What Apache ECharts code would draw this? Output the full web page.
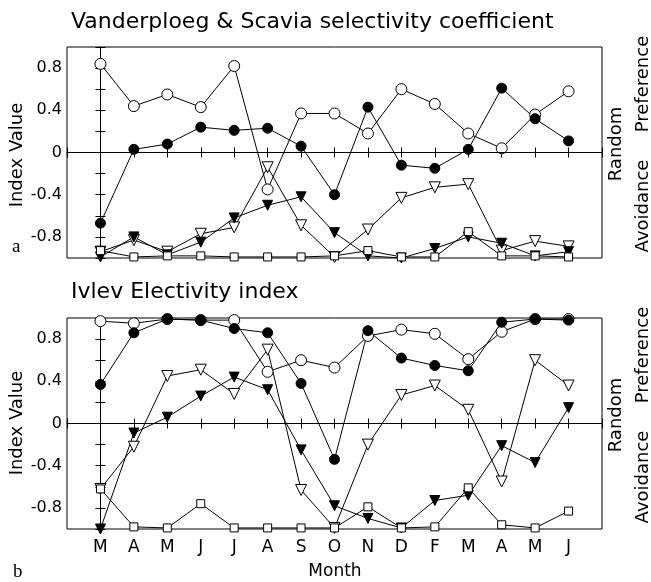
<!DOCTYPE html>
<html>
<head>
<meta charset="utf-8">
<script src="https://cdn.jsdelivr.net/npm/echarts@6/dist/echarts.min.js"></script>
<style>
  html, body { margin: 0; padding: 0; background: #fff; }
  #main { width: 651px; height: 582px; }
</style>
</head>
<body>
<div id="main"></div>
<script>
var months = ['M', 'A', 'M', 'J', 'J', 'A', 'S', 'O', 'N', 'D', 'F', 'M', 'A', 'M', 'J'];

// (a) Vanderploeg & Scavia selectivity coefficient
var vsOpenCircle   = [0.84, 0.44, 0.55, 0.43, 0.82, -0.35, 0.37, 0.37, 0.18, 0.60, 0.46, 0.18, 0.04, 0.36, 0.58];
var vsFilledCircle = [-0.67, 0.03, 0.08, 0.24, 0.21, 0.23, 0.06, -0.40, 0.43, -0.12, -0.15, 0.03, 0.61, 0.32, 0.11];
var vsOpenTri      = [-0.94, -0.83, -0.94, -0.77, -0.71, -0.14, -0.69, -0.99, -0.73, -0.43, -0.33, -0.30, -0.93, -0.84, -0.89];
var vsFilledTri    = [-0.99, -0.80, -0.97, -0.85, -0.62, -0.50, -0.42, -0.76, -0.98, -1.00, -0.91, -0.80, -0.86, -0.98, -0.94];
var vsSquare       = [-0.93, -0.99, -0.98, -0.98, -0.99, -0.99, -0.99, -0.98, -0.93, -0.99, -0.99, -0.75, -0.98, -0.98, -0.99];

// (b) Ivlev electivity index
var ivOpenCircle   = [0.97, 0.95, 0.99, 0.98, 0.98, 0.49, 0.60, 0.53, 0.83, 0.89, 0.85, 0.61, 0.87, 0.99, 0.99];
var ivFilledCircle = [0.37, 0.86, 0.99, 0.98, 0.90, 0.86, 0.38, -0.34, 0.88, 0.62, 0.55, 0.50, 0.96, 0.99, 0.98];
var ivOpenTri      = [-0.62, -0.22, 0.45, 0.51, 0.28, 0.70, -0.63, -0.99, -0.20, 0.27, 0.36, 0.13, -0.55, 0.60, 0.36];
var ivFilledTri    = [-1.00, -0.09, 0.06, 0.26, 0.44, 0.32, -0.25, -0.78, -0.90, -0.99, -0.73, -0.68, -0.21, -0.37, 0.15];
var ivSquare       = [-0.62, -0.98, -0.99, -0.76, -0.99, -0.99, -0.99, -0.99, -0.79, -0.99, -0.98, -0.61, -0.96, -0.99, -0.83];

var FONT = 'DejaVu Sans';
var myChart = echarts.init(document.getElementById('main'), null, { renderer: 'canvas' });

function pts(arr) {
    return arr.map(function (v, i) { return [i, v]; });
}

function xAx(gi, pos, labels) {
    return {
        type: 'value', gridIndex: gi, position: pos,
        min: -1, max: 15, interval: 1,
        axisLine: { show: true, lineStyle: { color: '#000', width: 1 } },
        axisTick: { show: true, inside: true, length: 5, lineStyle: { color: '#000' } },
        axisLabel: {
            show: labels, margin: 10, color: '#000', fontFamily: FONT, fontSize: 17,
            formatter: function (v) { return (v >= 0 && v < months.length) ? months[v] : ''; }
        },
        splitLine: { show: false }
    };
}

function yAx(gi, pos, labels) {
    return {
        type: 'value', gridIndex: gi, position: pos,
        min: -1, max: 1, interval: 0.2,
        axisLine: { show: true, lineStyle: { color: '#000', width: 1 } },
        axisTick: { show: true, inside: true, length: 5, lineStyle: { color: '#000' } },
        axisLabel: {
            show: labels, margin: 5, color: '#000', fontFamily: FONT, fontSize: 16,
            formatter: function (v) {
                var k = Math.round(v * 10);
                if (Math.abs(k) >= 10 || k % 4 !== 0) return '';
                return k === 0 ? '0' : (k / 10).toFixed(1);
            }
        },
        splitLine: { show: false }
    };
}

function ser(idx, arr, symbol, fill, size, zeroLine) {
    var s = {
        type: 'line', xAxisIndex: idx * 2, yAxisIndex: idx * 2,
        data: pts(arr),
        symbol: symbol, symbolSize: size,
        symbolRotate: symbol === 'triangle' ? 180 : 0,
        showAllSymbol: true,
        lineStyle: { color: '#000', width: 1 },
        itemStyle: { color: fill, borderColor: '#000', borderWidth: 1 },
        emphasis: { disabled: true },
        z: 3
    };
    if (zeroLine) {
        s.markLine = {
            silent: true, symbol: 'none', label: { show: false },
            lineStyle: { color: '#000', width: 1, type: 'solid' },
            data: [{ yAxis: 0 }]
        };
    }
    return s;
}

function txt(x, y, text, size, rot, family) {
    return {
        type: 'text', x: x, y: y, rotation: rot || 0,
        style: {
            text: text, fill: '#000', fontFamily: family || FONT, fontSize: size,
            align: rot ? 'center' : 'left', verticalAlign: 'middle'
        }
    };
}

var option = {
    animation: false,
    backgroundColor: '#fff',
    grid: [
        { left: 67, right: 49, top: 47, height: 211, show: true, borderColor: '#000', borderWidth: 1 },
        { left: 67, right: 49, top: 318, height: 211, show: true, borderColor: '#000', borderWidth: 1 }
    ],
    xAxis: [xAx(0, 'bottom', false), xAx(0, 'top', false), xAx(1, 'bottom', true), xAx(1, 'top', false)],
    yAxis: [yAx(0, 'left', true), yAx(0, 'right', false), yAx(1, 'left', true), yAx(1, 'right', false)],
    series: [
        ser(0, vsOpenCircle, 'circle', '#fff', 11, true),
        ser(0, vsFilledCircle, 'circle', '#000', 10, false),
        ser(0, vsOpenTri, 'triangle', '#fff', 11, false),
        ser(0, vsFilledTri, 'triangle', '#000', 10, false),
        ser(0, vsSquare, 'rect', '#fff', 8, false),
        ser(1, ivOpenCircle, 'circle', '#fff', 11, true),
        ser(1, ivFilledCircle, 'circle', '#000', 10, false),
        ser(1, ivOpenTri, 'triangle', '#fff', 11, false),
        ser(1, ivFilledTri, 'triangle', '#000', 10, false),
        ser(1, ivSquare, 'rect', '#fff', 8, false)
    ],
    graphic: [
        txt(71, 22, 'Vanderploeg & Scavia selectivity coefficient', 22),
        txt(71, 292, 'Ivlev Electivity index', 22),
        txt(17, 155, 'Index Value', 18, Math.PI / 2),
        txt(17, 423, 'Index Value', 18, Math.PI / 2),
        txt(616, 144, 'Random', 18, Math.PI / 2),
        txt(643, 84, 'Preference', 18, Math.PI / 2),
        txt(643, 206, 'Avoidance', 18, Math.PI / 2),
        txt(616, 415, 'Random', 18, Math.PI / 2),
        txt(643, 355, 'Preference', 18, Math.PI / 2),
        txt(643, 477, 'Avoidance', 18, Math.PI / 2),
        txt(335, 572, 'Month', 17, 0.0001),
        txt(12, 247, 'a', 19, 0, 'Liberation Serif'),
        txt(13, 572, 'b', 19, 0, 'Liberation Serif')
    ]
};
myChart.setOption(option);
</script>
</body>
</html>
